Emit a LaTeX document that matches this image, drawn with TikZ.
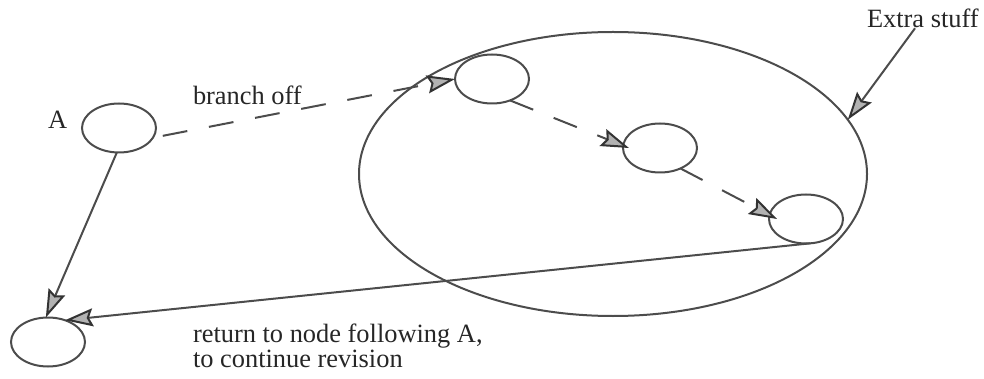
\documentclass[tikz,border=0pt]{standalone}
\usepackage{fontspec}
\setmainfont{Liberation Serif}
\usetikzlibrary{shapes.geometric,arrows.meta,calc}
\begin{document}
\begin{tikzpicture}[x=1pt,y=-1pt,
  nd/.style={ellipse,draw=black!70,line width=2pt,minimum width=74pt,minimum height=49pt,inner sep=0pt,outer sep=0pt},
  bigell/.style={ellipse,draw=black!70,line width=2pt,minimum width=508pt,minimum height=284pt,inner sep=0pt,outer sep=0pt},
  lbl/.style={font=\fontsize{26.4}{30}\selectfont,inner sep=0pt,outer sep=0pt,anchor=base west,text=black!85},
  con/.style={draw=black!70,line width=2pt,-{Stealth[length=28pt,width=18pt,inset=4pt,color=black!80,fill=gray!60]}},
  dsh/.style={con,dash pattern=on 25pt off 22pt},
]
\useasboundingbox (0,0) rectangle (984,379);
\node[bigell] (X) at (613,174) {};
\node[nd] (A) at (119,128) {};
\node[nd] (B) at (492,79) {};
\node[nd] (C) at (660,148) {};
\node[nd] (D) at (806,219) {};
\node[nd] (E) at (48,342) {};
\node[lbl] (tA) at (48,129) {A};
\node[lbl] (tb) at (193,105) {branch off};
\node[lbl] (tx) at (867,28) {Extra stuff};
\node[lbl] (tr1) at (193,342) {return to node following A,};
\node[lbl] (tr2) at (193,367) {to continue revision};
\draw[dsh,shorten <=10pt] (A.-16) -- (B.west);
\draw[dsh] (B.-50) -- ([xshift=6pt]C.west);
\draw[dsh] (C.-45) -- ([xshift=8pt]D.west);
\draw[con] (A.-95) -- (E.95);
\draw[con] (D.-80) -- (E.52);
\draw[con] ($(tx.south west)!0.43!(tx.south east)$) -- (X.13);
\end{tikzpicture}
\end{document}
